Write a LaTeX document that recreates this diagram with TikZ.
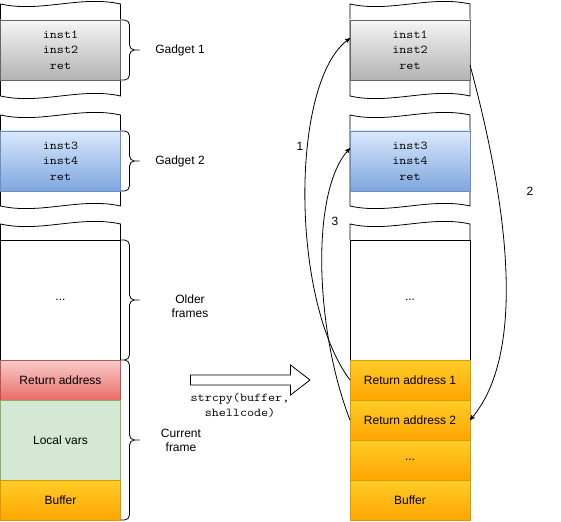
\documentclass[tikz,border=0pt]{standalone}
\usepackage{fontspec}
\setmainfont{Liberation Sans}
\setmonofont{Latin Modern Mono}[FakeStretch=1.14]
\usetikzlibrary{arrows,positioning}
\definecolor{graytop}{HTML}{F5F5F5}
\definecolor{graybot}{HTML}{B3B3B3}
\definecolor{grayline}{HTML}{666666}
\definecolor{bluetop}{HTML}{DAE8FC}
\definecolor{bluebot}{HTML}{7EA6E0}
\definecolor{blueline}{HTML}{6C8EBF}
\definecolor{redtop}{HTML}{F8CECC}
\definecolor{redbot}{HTML}{EA6B66}
\definecolor{redline}{HTML}{B85450}
\definecolor{greenfill}{HTML}{D5E8D4}
\definecolor{greenline}{HTML}{82B366}
\definecolor{orangetop}{HTML}{FFCD28}
\definecolor{orangebot}{HTML}{FFA500}
\definecolor{orangeline}{HTML}{D79B00}

\begin{document}
\begin{tikzpicture}[x=1pt,y=-1pt,line width=0.8pt,>=stealth',
		font=\fontsize{12}{14}\selectfont,
		cell/.style={draw,rectangle,minimum width=120pt,minimum height=40pt,inner sep=0pt,outer sep=0pt,align=center},
		code/.style={font=\ttfamily\fontsize{12}{15.5}\selectfont,align=center},
		grayblock/.style={cell,code,draw=grayline,top color=graytop,bottom color=graybot,minimum height=60pt},
		blueblock/.style={cell,code,draw=blueline,top color=bluetop,bottom color=bluebot,minimum height=60pt},
		plainblock/.style={cell,fill=white,minimum height=120pt},
		redblock/.style={cell,draw=redline,top color=redtop,bottom color=redbot},
		greenblock/.style={cell,draw=greenline,fill=greenfill,minimum height=80pt},
		orangeblock/.style={cell,draw=orangeline,top color=orangetop,bottom color=orangebot},
		tape/.style={draw,fill=white},
		bracket/.style={draw,rounded corners=5pt}]
	\useasboundingbox (0,0) rectangle (561,521);
	\foreach \xo in {0.5,350}{
		\draw[tape] (\xo,4) .. controls ({\xo+40},13) and ({\xo+80},-5) .. ({\xo+120},4) -- ({\xo+120},96)
			.. controls ({\xo+80},87) and ({\xo+40},105) .. (\xo,96) -- cycle;
		\draw[tape] (\xo,115) .. controls ({\xo+40},124) and ({\xo+80},106) .. ({\xo+120},115) -- ({\xo+120},206)
			.. controls ({\xo+80},197) and ({\xo+40},215) .. (\xo,206) -- cycle;
		\draw[tape] (\xo,240) -- (\xo,224) .. controls ({\xo+40},233) and ({\xo+80},215) .. ({\xo+120},224) -- ({\xo+120},240);
	}
	\node[grayblock] (lg1) at (60.5,50) {inst1\\inst2\\ret};
	\node[blueblock] (lg2) at (60.5,161) {inst3\\inst4\\ret};
	\node[plainblock] (lold) at (60.5,300) {...};
	\node[redblock, below=0pt of lold] (lret) {Return address};
	\node[greenblock, below=0pt of lret] (lloc) {Local vars};
	\node[orangeblock, below=0pt of lloc] (lbuf) {Buffer};
	\node[grayblock] (rg1) at (410,50) {inst1\\inst2\\ret};
	\node[blueblock] (rg2) at (410,161) {inst3\\inst4\\ret};
	\node[plainblock] (rold) at (410,300) {...};
	\node[orangeblock, below=0pt of rold] (rret1) {Return address 1};
	\node[orangeblock, below=0pt of rret1] (rret2) {Return address 2};
	\node[orangeblock, below=0pt of rret2] (rdots) {...};
	\node[orangeblock, below=0pt of rdots] (rbuf) {Buffer};
	\path[bracket]
		(lg1.north east) -| ([xshift=9pt]lg1.east) -- ([xshift=19pt]lg1.east)
		(lg1.south east) -| ([xshift=9pt]lg1.east) -- ([xshift=19pt]lg1.east)
		(lg2.north east) -| ([xshift=9pt]lg2.east) -- ([xshift=19pt]lg2.east)
		(lg2.south east) -| ([xshift=9pt]lg2.east) -- ([xshift=19pt]lg2.east)
		(lold.north east) -| ([xshift=9pt]lold.east) -- ([xshift=19pt]lold.east)
		(lold.south east) -| ([xshift=9pt]lold.east) -- ([xshift=19pt]lold.east)
		(lret.north east) -| ([xshift=9pt]lloc.east) -- ([xshift=19pt]lloc.east)
		(lbuf.south east) -| ([xshift=9pt]lloc.east) -- ([xshift=19pt]lloc.east);
	\node[align=center] (gad1) at (180,50) {Gadget 1};
	\node[align=center] (gad2) at (180,161) {Gadget 2};
	\node[align=center] (older) at (190,306) {Older\\frames};
	\node[align=center] (current) at (181,440) {Current\\frame};
	\draw[fill=white] (190.5,375) -- (290.5,375) -- (290.5,365) -- (310,380) -- (290.5,395) -- (290.5,385) -- (190.5,385) -- cycle;
	\node[code] (copy) at (240,405.5) {strcpy(buffer,\\shellcode)};
	\draw[->] (rret1.west) .. controls (290,300) and (290,80) .. (rg1.169);
	\draw[->] (rg1.346) .. controls (490,140) and (540,340) .. (rret2.east);
	\draw[->] (rret2.west) .. controls (315,330) and (310,190) .. (rg2.168);
	\node (one) at (300,146) {1};
	\node (two) at (530,191) {2};
	\node (three) at (335,221) {3};
\end{tikzpicture}
\end{document}
